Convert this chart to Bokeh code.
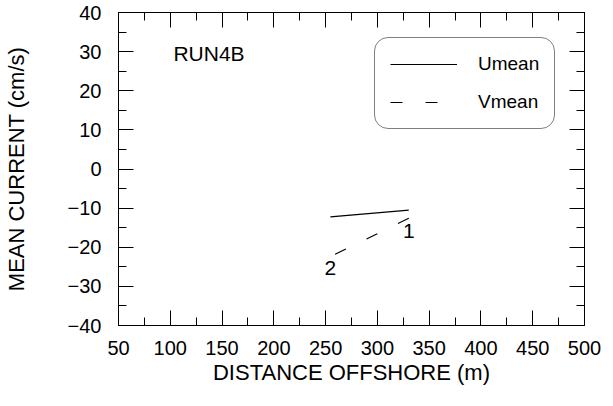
from bokeh.plotting import figure
from bokeh.models import (LinearAxis, Range1d, FixedTicker, Legend, LegendItem,
                          ColumnDataSource, Label, CustomJSTickFormatter)
from bokeh.core.properties import value
from bokeh.embed import file_html
from bokeh.resources import INLINE

# ---- data ----
distance = [330.3, 254.6]      # m offshore (station 1, station 2)
umean = [-10.5, -12.25]        # cm/s
vmean = [-12.6, -22.4]         # cm/s
station_labels = ["1", "2"]
station_label_x = [330.4, 254.6]
station_label_y = [-15.8, -25.4]
x_major = [50, 100, 150, 200, 250, 300, 350, 400, 450, 500]
x_minor = [75, 125, 175, 225, 275, 325, 375, 425, 475]
y_major = [-40, -30, -20, -10, 0, 10, 20, 30, 40]
y_minor = [-35, -25, -15, -5, 5, 15, 25, 35]
run_name = "RUN4B"
run_x, run_y = 103, 29.4

FONT = "Liberation Sans"

p = figure(width=605, height=398, output_backend="svg", toolbar_location=None,
           x_range=Range1d(50, 500), y_range=Range1d(-40, 40),
           min_border_left=109, min_border_right=21, min_border_top=12,
           min_border_bottom=73, x_axis_location=None, y_axis_location=None)
p.grid.visible = False
p.outline_line_color = "black"
p.outline_line_width = 1
p.background_fill_color = "white"
p.border_fill_color = "white"


def make_axis(ticks, minors, labels=True, label=None):
    ax = LinearAxis(ticker=FixedTicker(ticks=ticks, minor_ticks=minors))
    ax.major_tick_in = 15
    ax.major_tick_out = 0
    ax.minor_tick_in = 8
    ax.minor_tick_out = 0
    ax.axis_line_color = "black"
    ax.major_tick_line_color = "black"
    ax.minor_tick_line_color = "black"
    ax.major_label_text_font = FONT
    if labels:
        ax.major_label_text_font_size = "20px"
        ax.major_label_text_color = "black"
    else:
        ax.formatter = CustomJSTickFormatter(code="return ''")
        ax.major_label_text_font_size = "1px"
        ax.major_label_standoff = 0
    if label:
        ax.axis_label = label
        ax.axis_label_text_font = FONT
        ax.axis_label_text_font_size = "22px"
        ax.axis_label_text_font_style = "normal"
        ax.axis_label_text_color = "black"
    return ax


bottom = make_axis(x_major, x_minor, True, "DISTANCE OFFSHORE (m)")
bottom.major_label_standoff = 15
bottom.axis_label_standoff = 2
left = make_axis(y_major, y_minor, True, "MEAN CURRENT (cm/s)")
left.major_label_standoff = 17
left.axis_label_standoff = 36
top = make_axis(x_major, x_minor, False)
right = make_axis(y_major, y_minor, False)
p.add_layout(bottom, "below")
p.add_layout(left, "left")
p.add_layout(top, "above")
p.add_layout(right, "right")

src = ColumnDataSource(dict(x=distance, u=umean, v=vmean))
lab_src = ColumnDataSource(dict(lx=station_label_x, ly=station_label_y,
                                lab=station_labels))
ru = p.line("x", "u", source=src, line_color="black", line_width=1.2)
rv = p.line("x", "v", source=src, line_color="black", line_width=1.2,
            line_dash="12 23")

p.text("lx", "ly", text="lab", source=lab_src, text_font=value(FONT),
       text_font_size="21px", text_align="center", text_baseline="middle",
       text_color="black")

p.add_layout(Label(x=run_x, y=run_y, text=run_name, text_font=FONT,
                   text_font_size="21px", text_baseline="middle",
                   text_color="black"))

legend = Legend(items=[LegendItem(label="Umean", renderers=[ru]),
                       LegendItem(label="Vmean", renderers=[rv])],
                location=(256, 196))
legend.border_line_color = "black"
legend.border_line_width = 1
legend.border_radius = 14
legend.glyph_width = 67
legend.glyph_height = 22
legend.label_height = 22
legend.label_standoff = 21
legend.label_text_font = FONT
legend.label_text_font_size = "19px"
legend.label_text_color = "black"
legend.padding = 15
legend.spacing = 16
legend.margin = 0
legend.background_fill_alpha = 0
p.add_layout(legend)

open("out.html", "w").write(file_html(p, INLINE))
